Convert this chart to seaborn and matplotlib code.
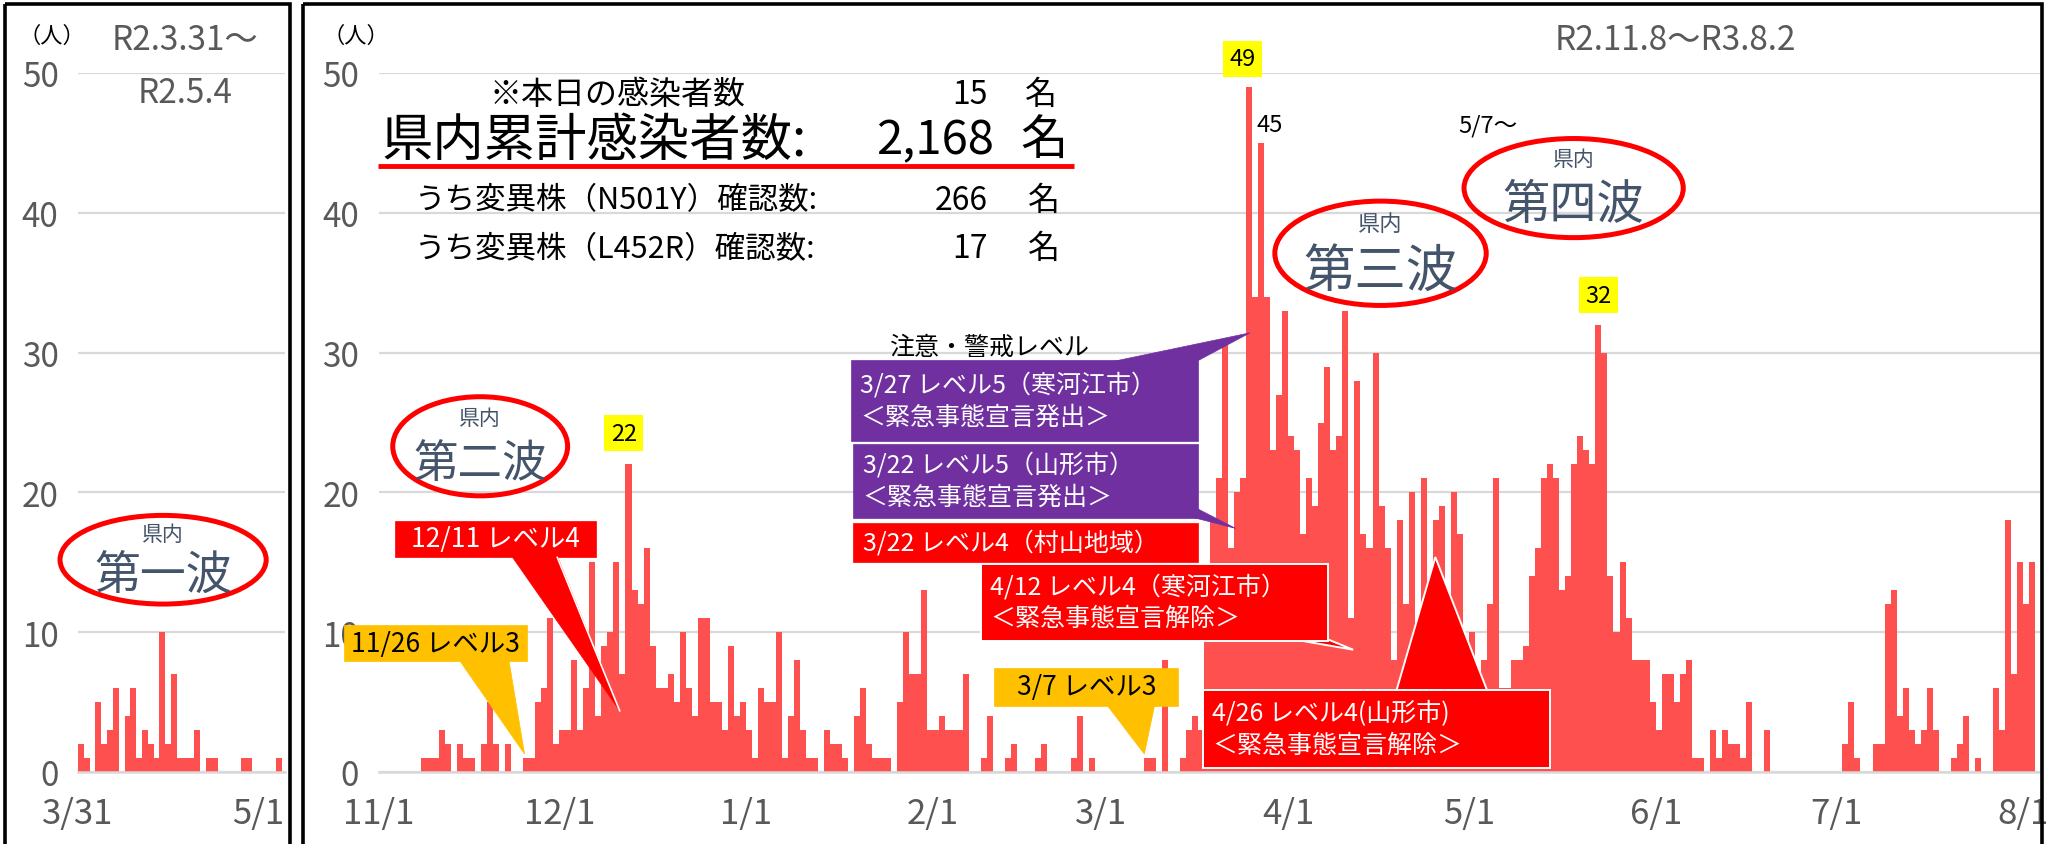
import numpy as np
import pandas as pd
import matplotlib
matplotlib.use("Agg")
import matplotlib.pyplot as plt
import seaborn as sns
from matplotlib.patches import Rectangle, Ellipse, Polygon

# ---------------- data ----------------
# first wave panel: daily cases from 3/31 to 5/4 (R2)
wave1_ticks = ["3/31", "5/1"]
wave1_tick_pos = [0, 31]
wave1 = [2, 1, 0, 5, 2, 3, 6, 0, 4, 6, 1, 3, 2, 1, 10, 2, 7, 1, 1, 1, 3, 0, 1, 1,
         0, 0, 0, 0, 1, 1, 0, 0, 0, 0, 1]

# main panel: daily cases by month, R2.11.1 - R3.8.2
nov = [0, 0, 0, 0, 0, 0, 0, 1, 1, 1, 3, 2, 0, 2, 1, 1, 0, 2, 5, 2, 0, 2, 0, 0, 1, 1, 5, 6, 11, 2]
dec = [3, 3, 8, 3, 6, 15, 4, 9, 10, 15, 7, 22, 13, 12, 16, 9, 6, 6, 7, 5, 10, 6, 4, 11, 11, 5, 5, 3, 9, 4, 5]
jan = [3, 1, 6, 5, 5, 10, 1, 4, 8, 3, 1, 1, 0, 3, 2, 2, 1, 0, 4, 6, 2, 1, 1, 1, 0, 5, 10, 7, 7, 13, 3]
feb = [3, 4, 3, 3, 3, 7, 0, 0, 1, 4, 0, 0, 1, 2, 0, 0, 0, 1, 2, 0, 0, 0, 0, 1, 4, 0, 1, 0]
mar = [0, 0, 0, 0, 0, 0, 0, 1, 1, 0, 8, 0, 0, 1, 3, 4, 3, 12, 18, 21, 31, 16, 20, 21, 49, 34, 45, 34, 23, 27, 33]
apr = [24, 23, 17, 21, 19, 25, 29, 23, 24, 33, 11, 28, 17, 16, 30, 19, 16, 8, 18, 12, 20, 9, 21, 10, 18, 19, 12, 20, 17, 7]
may = [10, 4, 8, 12, 21, 6, 6, 8, 8, 9, 14, 16, 21, 22, 21, 13, 14, 22, 24, 23, 22, 32, 30, 14, 10, 15, 11, 8, 8, 8, 5]
jun = [3, 7, 7, 5, 7, 8, 1, 1, 0, 3, 1, 3, 2, 2, 1, 5, 0, 0, 3, 0, 0, 0, 0, 0, 0, 0, 0, 0, 0, 0]
jul = [0, 2, 5, 1, 0, 0, 2, 2, 12, 13, 4, 6, 3, 2, 3, 6, 3, 0, 0, 1, 2, 4, 0, 1, 0, 0, 6, 3, 18, 7, 15]
aug = [12, 15]
month_labels = ["11/1", "12/1", "1/1", "2/1", "3/1", "4/1", "5/1", "6/1", "7/1", "8/1"]

months = [nov, dec, jan, feb, mar, apr, may, jun, jul, aug]
main_vals = np.concatenate([np.array(m) for m in months])
month_starts = np.cumsum([0] + [len(m) for m in months])[:len(month_labels)]

df_main = pd.DataFrame({"day": np.arange(len(main_vals)) + 0.5, "cases": main_vals})
df_w1 = pd.DataFrame({"day": np.arange(len(wave1)) + 0.5, "cases": wave1})

# ---------------- style ----------------
sns.set_theme(style="white")
plt.rcParams["font.family"] = ["Noto Sans CJK JP", "DejaVu Sans"]

BAR = "#ff5050"
GRID = "#d9d9d9"
LAB = "#595959"
SLATE = "#44546a"
RED = "#ff0000"
ORANGE = "#ffc000"
PURPLE = "#7030a0"
YELLOW = "#ffff00"

W, H = 2046, 845
fig = plt.figure(figsize=(W / 100, H / 100), dpi=100)

axL = fig.add_axes([78 / W, 1 - 773 / H, (285 - 78) / W, (773 - 74) / H])
axR = fig.add_axes([378.5 / W, 1 - 773 / H, (2040 - 378.5) / W, (773 - 74) / H])

for ax, df in ((axL, df_w1), (axR, df_main)):
    sns.barplot(data=df, x="day", y="cases", native_scale=True, width=1.0,
                color=BAR, saturation=1, errorbar=None, linewidth=0, ax=ax)

axL.set_xlim(0, 35.6)
axL.set_xticks(wave1_tick_pos)
axL.set_xticklabels(wave1_ticks)
axR.set_xlim(0, 275.8)
axR.set_xticks(month_starts)
axR.set_xticklabels(month_labels)

for ax in (axL, axR):
    ax.set_ylim(0, 50)
    ax.set_yticks(range(0, 51, 10))
    ax.set_xlabel("")
    ax.set_ylabel("")
    ax.set_facecolor("none")
    ax.set_axisbelow(True)
    ax.yaxis.grid(True, color=GRID, lw=1.6)
    ax.xaxis.grid(False)
    for s in ("top", "right", "left"):
        ax.spines[s].set_visible(False)
    ax.spines["bottom"].set_color(GRID)
    ax.spines["bottom"].set_linewidth(1.8)
    ax.tick_params(axis="x", direction="out", length=9, width=1.6, color=GRID,
                   labelcolor=LAB, labelsize=25, pad=8)
    ax.tick_params(axis="y", length=0, labelcolor=LAB, labelsize=24, pad=14)

# ---------------- overlay (annotations, shrunk-image coordinates) ----------------
ov = fig.add_axes([0, 0, 1, 1])
ov.set_xlim(0, 1568)
ov.set_ylim(648, 0)
ov.axis("off")
ov.set_zorder(10)

# panel frames
ov.add_patch(Rectangle((4, 4), 218, 700, fill=False, ec="black", lw=2.6, clip_on=False))
ov.add_patch(Rectangle((232, 4), 1333, 700, fill=False, ec="black", lw=2.6, clip_on=False))

# unit labels and periods
ov.text(40, 28, "（人）", ha="center", va="center", fontsize=16, color="black")
ov.text(273, 28, "（人）", ha="center", va="center", fontsize=16, color="black")
ov.text(142, 31, "R2.3.31〜", ha="center", va="center", fontsize=24, color=LAB)
ov.text(142, 72, "R2.5.4", ha="center", va="center", fontsize=24, color=LAB)
ov.text(1284, 31, "R2.11.8〜R3.8.2", ha="center", va="center", fontsize=24, color=LAB)

# summary block
ov.text(473, 73, "※本日の感染者数", ha="center", va="center", fontsize=23, color="black")
ov.text(757, 73, "15", ha="right", va="center", fontsize=23, color="black")
ov.text(798, 73, "名", ha="center", va="center", fontsize=23, color="black")
ov.text(292, 108, "県内累計感染者数:", ha="left", va="center", fontsize=37, color="black")
ov.text(762, 108, "2,168", ha="right", va="center", fontsize=34, color="black")
ov.text(800, 108, "名", ha="center", va="center", fontsize=34, color="black")
ov.plot([290, 823], [128, 128], color=RED, lw=3.5, solid_capstyle="butt")
ov.text(318, 154, "うち変異株（N501Y）確認数:", ha="left", va="center", fontsize=22, color="black")
ov.text(757, 154, "266", ha="right", va="center", fontsize=23, color="black")
ov.text(800, 154, "名", ha="center", va="center", fontsize=23, color="black")
ov.text(318, 191, "うち変異株（L452R）確認数:", ha="left", va="center", fontsize=22, color="black")
ov.text(757, 191, "17", ha="right", va="center", fontsize=23, color="black")
ov.text(800, 191, "名", ha="center", va="center", fontsize=23, color="black")

# wave ellipses
def wave(cx, cy, w, h, name, big, small):
    ov.add_patch(Ellipse((cx, cy), w, h, fill=False, ec=RED, lw=3.6, zorder=6))
    ov.text(cx, cy - h * 0.29, "県内", ha="center", va="center", fontsize=small, color=SLATE, zorder=7)
    ov.text(cx, cy + h * 0.17, name, ha="center", va="center", fontsize=big, color=SLATE, zorder=7)

wave(125, 430, 158, 68, "第一波", 33, 15)
wave(368, 343, 134, 76, "第二波", 32, 15)
wave(1058, 195, 162, 80, "第三波", 37, 16)
wave(1206, 145, 168, 76, "第四波", 34, 15)

# peak labels
def ylab(cx, cy, txt):
    ov.add_patch(Rectangle((cx - 15, cy - 14), 30, 28, fc=YELLOW, ec="none", zorder=6))
    ov.text(cx, cy, txt, ha="center", va="center", fontsize=17, color="black", zorder=7)

ylab(952, 46, "49")
ylab(478, 333, "22")
ylab(1225, 227, "32")
ov.text(973, 96, "45", ha="center", va="center", fontsize=17, color="black")
ov.text(1140, 97, "5/7〜", ha="center", va="center", fontsize=17, color="black")

# callouts
def callout(x0, y0, x1, y1, fc, text, tc, fsz, tri=None, edge=None, ha="center"):
    if tri is not None:
        ov.add_patch(Polygon(tri, closed=True, fc=fc, ec=edge if edge else fc,
                             lw=1.4 if edge else 0.5, zorder=4, joinstyle="miter"))
    ov.add_patch(Rectangle((x0, y0), x1 - x0, y1 - y0, fc=fc,
                           ec=edge if edge else fc, lw=1.4 if edge else 0.5, zorder=5))
    if ha == "center":
        ov.text((x0 + x1) / 2, (y0 + y1) / 2, text, ha="center", va="center",
                color=tc, fontsize=fsz, linespacing=1.3, zorder=6)
    else:
        ov.text(x0 + 7, (y0 + y1) / 2, text, ha="left", va="center",
                color=tc, fontsize=fsz, linespacing=1.3, zorder=6)

callout(264, 480, 404, 508, ORANGE, "11/26 レベル3", "black", 19,
        tri=[(352, 507), (390, 507), (402, 579)])
callout(303, 400, 457, 428, RED, "12/11 レベル4", "white", 19,
        tri=[(392, 427), (427, 427), (475, 546)])
ov.plot([427, 475], [428, 546], color="white", lw=1.2, zorder=5)
callout(762, 513, 903, 542, ORANGE, "3/7 レベル3", "black", 19,
        tri=[(848, 541), (885, 541), (877, 579)])

ov.text(758, 267, "注意・警戒レベル", ha="center", va="center", fontsize=18, color="black")
callout(652, 277, 918, 339, PURPLE, "3/27 レベル5（寒河江市）\n＜緊急事態宣言発出＞", "white", 18,
        tri=[(848, 279), (915, 279), (958, 256)], ha="left")
callout(654, 341, 918, 398, PURPLE, "3/22 レベル5（山形市）\n＜緊急事態宣言発出＞", "white", 18,
        tri=[(916, 390), (916, 398), (947, 406)], ha="left")
callout(654, 402, 918, 432, RED, "3/22 レベル4（村山地域）", "white", 18, ha="left")
callout(752, 433, 1018, 492, RED, "4/12 レベル4（寒河江市）\n＜緊急事態宣言解除＞", "white", 18,
        tri=[(985, 490), (1015, 490), (1037, 499)], edge="white", ha="left")
callout(922, 530, 1188, 590, RED, "4/26 レベル4(山形市)\n＜緊急事態宣言解除＞", "white", 18,
        tri=[(1070, 531), (1140, 531), (1100, 428)], edge="white", ha="left")

fig.savefig("out.png", dpi=100)
